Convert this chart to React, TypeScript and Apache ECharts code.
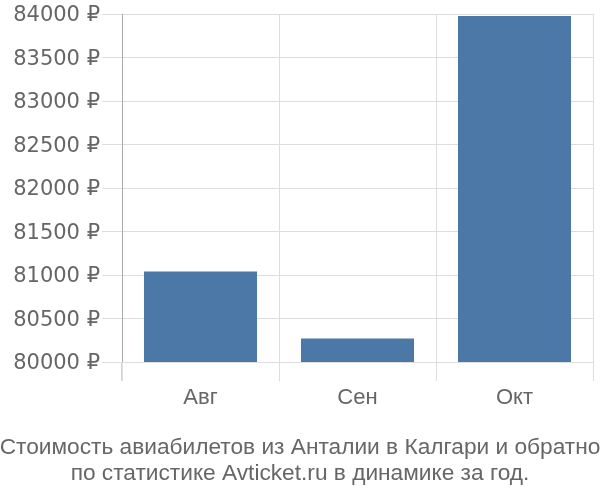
import React, { useEffect, useRef } from "react";
import * as echarts from "echarts";

const categories = ["Авг", "Сен", "Окт"];
const prices = [81040, 80270, 83978];
const yMin = 80000;
const yMax = 84000;
const yStep = 500;
const titleLines = [
  "Стоимость авиабилетов из Анталии в Калгари и обратно",
  "по статистике Avticket.ru в динамике за год.",
];

const W = 600;
const H = 500;
const G = { left: 122, right: 7, top: 14, bottom: 138 };
const FONT = "'Liberation Sans', Arial, sans-serif";
const YFONT = "'DejaVu Sans', sans-serif";

export default function App() {
  const ref = useRef<HTMLDivElement>(null);
  useEffect(() => {
    if (!ref.current) return;
    const chart = echarts.init(ref.current, undefined, { renderer: "svg" });
    chart.setOption({
      animation: false,
      textStyle: { fontFamily: FONT },
      title: {
        text: titleLines.join("\n"),
        left: "center",
        top: 428,
        textStyle: {
          fontFamily: FONT,
          fontSize: 22.7,
          fontWeight: "normal",
          color: "#666",
          lineHeight: 26,
        },
      },
      grid: { ...G, containLabel: false },
      xAxis: {
        type: "category",
        data: categories,
        boundaryGap: true,
        axisLine: { show: false },
        axisTick: { show: true, length: 19, lineStyle: { color: "#ddd" } },
        splitLine: { show: true, lineStyle: { color: "#ddd" } },
        axisLabel: { color: "#666", fontSize: 22, margin: 23, fontFamily: FONT },
      },
      yAxis: {
        type: "value",
        min: yMin,
        max: yMax,
        interval: yStep,
        axisLine: { show: true, lineStyle: { color: "#aaa" } },
        axisTick: { show: true, length: 20, lineStyle: { color: "#ddd" } },
        splitLine: { show: true, lineStyle: { color: "#ddd" } },
        axisLabel: {
          color: "#666",
          fontSize: 21,
          margin: 22,
          fontFamily: YFONT,
          formatter: (v: number) => `${v} ₽`,
        },
      },
      graphic: [
        {
          type: "line",
          shape: { x1: G.left, y1: H - G.bottom, x2: G.left, y2: H - G.bottom + 19 },
          style: { stroke: "#aaa", lineWidth: 1 },
        },
      ],
      series: [
        {
          type: "bar",
          data: prices,
          barCategoryGap: "28%",
          itemStyle: { color: "#4c78a8" },
        },
      ],
    });
    return () => chart.dispose();
  }, []);
  return (
    <div
      ref={ref}
      style={{ position: "fixed", left: 0, top: 0, width: W, height: H }}
    />
  );
}
